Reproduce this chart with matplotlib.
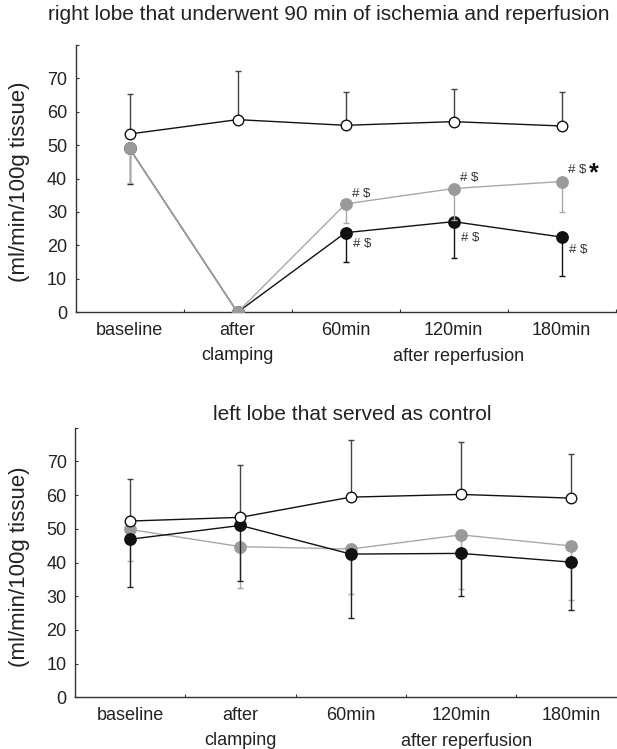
import numpy as np
import matplotlib
matplotlib.use("Agg")
import matplotlib.pyplot as plt

plt.rcParams['font.family'] = ['Liberation Sans', 'DejaVu Sans']

categories = ["baseline", "after\nclamping", "60min", "120min", "180min"]
x_pos = np.arange(5) + 0.5

# Top panel: right lobe (ischemia / reperfusion)
top_white = [53.3, 57.6, 55.9, 57.0, 55.7]
top_white_upper = [65.4, 72.1, 65.8, 66.7, 66.0]
top_gray = [49.0, 0.0, 32.4, 37.0, 39.1]
top_gray_lower = [38.8, 0.0, 26.8, 27.5, 30.0]
top_black = [49.0, 0.0, 23.8, 27.1, 22.5]
top_black_lower = [38.3, 0.0, 15.0, 16.1, 10.9]

# Bottom panel: left lobe (control)
bot_white = [52.3, 53.4, 59.4, 60.2, 59.1]
bot_white_upper = [64.9, 68.9, 76.4, 75.9, 72.2]
bot_gray = [49.8, 44.7, 44.0, 48.2, 44.9]
bot_gray_lower = [40.3, 32.4, 30.6, 32.2, 28.8]
bot_black = [46.9, 51.0, 42.5, 42.7, 40.1]
bot_black_lower = [32.8, 34.6, 23.6, 30.0, 26.0]

GRAY = "#9a9a9a"
GRAY_LINE = "#a8a8a8"
BLACK = "#111111"
AX = "#333333"

fig = plt.figure(figsize=(6.17, 7.49), dpi=100)
ax1 = fig.add_axes([75.5 / 617, 1 - 312.3 / 749, 540 / 617, 267.6 / 749])
ax2 = fig.add_axes([75.0 / 617, 1 - 697.3 / 749, 551.5 / 617, 269.6 / 749])


def draw_series(ax, vals, ends, direction, face, line, ecol, z, ms=8.2, edge=None):
    vals = np.asarray(vals, float)
    ends = np.asarray(ends, float)
    if direction == "up":
        yerr = [np.zeros_like(vals), ends - vals]
    else:
        yerr = [vals - ends, np.zeros_like(vals)]
    ax.errorbar(x_pos, vals, yerr=yerr, fmt="none", ecolor=ecol, elinewidth=1.0,
                capsize=2.0, capthick=1.0, zorder=z)
    ax.plot(x_pos, vals, color=line, lw=1.0, zorder=z + 0.1)
    ax.plot(x_pos, vals, ls="none", marker="o", ms=ms, mfc=face,
            mec=edge if edge else face, mew=1.0, zorder=z + 0.2)


def style_axes(ax):
    ax.set_xlim(0, 5)
    ax.set_ylim(0, 80)
    for s in ["top", "right"]:
        ax.spines[s].set_visible(False)
    for s in ["left", "bottom"]:
        ax.spines[s].set_color(AX)
        ax.spines[s].set_linewidth(1.0)
    ax.set_yticks(np.arange(0, 90, 10))
    ax.set_yticklabels([str(v) for v in range(0, 80, 10)] + [""])
    ax.set_xticks(np.arange(0, 6))
    ax.set_xticklabels([])
    ax.set_xticks(x_pos, labels=categories, minor=True)
    ax.tick_params(axis="y", direction="in", length=2.5, width=0.8, color=AX,
                   labelsize=13, pad=6, labelcolor="#222222")
    ax.tick_params(axis="x", which="major", direction="in", length=2.5, width=0.8, color=AX)
    ax.tick_params(axis="x", which="minor", length=0, labelsize=13, pad=7,
                   labelcolor="#222222")
    for lbl in ax.get_xticklabels(minor=True):
        lbl.set_linespacing(1.6)
    ax.annotate("after reperfusion", xy=(3.55, 0), xycoords=("data", "axes fraction"),
                xytext=(0, -31.5), textcoords="offset points", ha="center", va="center",
                fontsize=13, color="#222222", annotation_clip=False)


# top panel
draw_series(ax1, top_white, top_white_upper, "up", "white", BLACK, "#444444", 5,
            ms=7.6, edge=BLACK)
draw_series(ax1, top_black, top_black_lower, "down", BLACK, BLACK, BLACK, 2)
draw_series(ax1, top_gray, top_gray_lower, "down", GRAY, GRAY_LINE, GRAY_LINE, 3)
style_axes(ax1)

ann_kw = dict(textcoords="offset points", ha="left", va="center", fontsize=9.5,
              color="#333333")
for i, dy in [(2, 7.5), (3, 7.5), (4, 8.5)]:
    ax1.annotate("# $", xy=(x_pos[i], top_gray[i]), xytext=(5, dy), **ann_kw)
for i, dy in [(2, -8.5), (3, -11.5), (4, -9)]:
    ax1.annotate("# $", xy=(x_pos[i], top_black[i]), xytext=(5.5, dy), **ann_kw)
ax1.annotate("*", xy=(x_pos[4], top_gray[4]), xytext=(23.5, 6), textcoords="offset points",
             ha="center", va="center", fontsize=18, fontweight="bold", color=BLACK)

# bottom panel
draw_series(ax2, bot_white, bot_white_upper, "up", "white", BLACK, "#444444", 5,
            ms=7.6, edge=BLACK)
draw_series(ax2, bot_gray, bot_gray_lower, "down", GRAY, GRAY_LINE, GRAY_LINE, 2)
draw_series(ax2, bot_black, bot_black_lower, "down", BLACK, BLACK, "#222222", 3)
style_axes(ax2)

# titles and y labels
fig.text(329 / 617, 1 - 19.5 / 749, "right lobe that underwent 90 min of ischemia and reperfusion",
         ha="center", va="baseline", fontsize=15, color="#222222")
fig.text(352 / 617, 1 - 420 / 749, "left lobe that served as control",
         ha="center", va="baseline", fontsize=15, color="#222222")
fig.text(20 / 617, 1 - 182 / 749, "(ml/min/100g tissue)", rotation=90,
         ha="center", va="center", fontsize=16, color="#222222")
fig.text(20 / 617, 1 - 567 / 749, "(ml/min/100g tissue)", rotation=90,
         ha="center", va="center", fontsize=16, color="#222222")

fig.savefig("out.png", dpi=100)
